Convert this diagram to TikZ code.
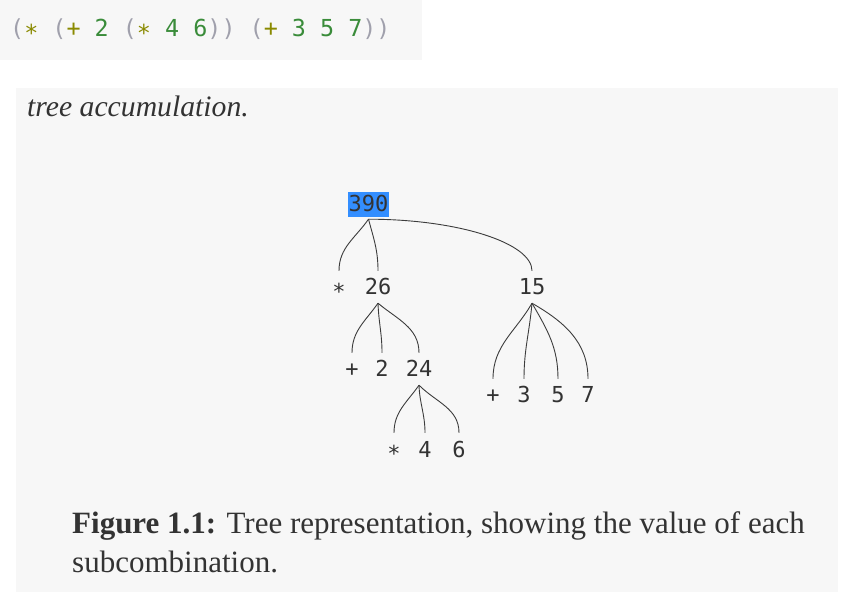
\documentclass[tikz,border=0pt]{standalone}
\usepackage{fontspec}
\setmainfont{Liberation Serif}
\newfontfamily\monofont{DejaVu Sans Mono}
\usetikzlibrary{positioning}

\definecolor{boxgray}{RGB}{247,247,247}
\definecolor{ink}{RGB}{51,51,51}
\definecolor{parengray}{RGB}{160,160,172}
\definecolor{opolive}{RGB}{138,138,0}
\definecolor{numgreen}{RGB}{58,140,58}
\definecolor{selblue}{RGB}{51,142,255}
\definecolor{linegray}{RGB}{60,60,60}

\newcommand{\codeparen}[1]{\textcolor{parengray}{#1}}
\newcommand{\codeop}[1]{\textcolor{opolive}{#1}}
\newcommand{\codenum}[1]{\textcolor{numgreen}{#1}}
\newcommand{\codestar}{\codeop{\raisebox{-4.5pt}{*}}}
\newcommand{\lowstar}{\raisebox{-5pt}{*}}

\tikzset{
    leaf/.style={font=\monofont\fontsize{22}{26}\selectfont, text=ink, text height=16pt, text depth=0pt, inner xsep=0pt, inner ysep=8pt, anchor=base},
    twig/.style={draw=linegray, line width=0.9pt},
    prose/.style={anchor=base west, inner sep=0pt, text=ink},
}

\begin{document}
\begin{tikzpicture}[x=1pt,y=1pt]
    \useasboundingbox (0,0) rectangle (841,595);
    % grey boxes
    \fill[boxgray] (0,535) rectangle (422,595);
    \fill[boxgray] (16,3) rectangle (838,507);

    \node[anchor=base west, inner sep=0pt, font=\monofont\fontsize{23.4}{28}\selectfont] (code) at (10,558)
        {\codeparen{(}\codestar{} \codeparen{(}\codeop{+} \codenum{2} \codeparen{(}\codestar{} \codenum{4} \codenum{6}\codeparen{))} \codeparen{(}\codeop{+} \codenum{3} \codenum{5} \codenum{7}\codeparen{))}};

    \node[prose, font=\itshape\fontsize{29.7}{35}\selectfont] (title) at (27,478) {tree accumulation.};

    % the tree
    \node[leaf, fill=selblue, text height=20pt, text depth=5pt, inner ysep=0pt, inner xsep=0.7pt] (v390) at (368.5,383) {390};
    \node[leaf] (op1) at (339,300) {\lowstar};
    \node[leaf] (v26) at (378,300) {26};
    \node[leaf] (v15) at (532,300) {15};
    \node[leaf] (op2) at (352,218) {+};
    \node[leaf] (v2)  at (382,218) {2};
    \node[leaf] (v24) at (419,218) {24};
    \node[leaf] (op3) at (493,192) {+};
    \node[leaf] (v3)  at (524,192) {3};
    \node[leaf] (v5)  at (558,192) {5};
    \node[leaf] (v7)  at (588,192) {7};
    \node[leaf] (op4) at (394,138) {\lowstar};
    \node[leaf] (v4)  at (425,138) {4};
    \node[leaf] (v6)  at (459,138) {6};

    \draw[twig] ([yshift=-2pt]v390.south) to[out=-125,in=90] (op1.north);
    \draw[twig] ([yshift=-2pt]v390.south) to[out=-75,in=90] (v26.north);
    \draw[twig] ([yshift=-2pt]v390.south) to[out=0,in=90,out distance=89pt,in distance=28pt] (v15.north);
    \foreach \kid/\ang in {op2/-125, v2/-88, v24/-40}
        \draw[twig] (v26.south) to[out=\ang,in=90] (\kid.north);
    \foreach \kid/\ang in {op3/-120, v3/-95, v5/-60, v7/-30}
        \draw[twig] (v15.south) to[out=\ang,in=90] (\kid.north);
    \foreach \kid/\ang in {op4/-125, v4/-88, v6/-45}
        \draw[twig] (v24.south) to[out=\ang,in=90] (\kid.north);

    % caption
    \node[prose, font=\fontsize{31}{39}\selectfont] (caption) at (72,62)
        {\textbf{Figure 1.1:} Tree representation, showing the value of each};
    \node[prose, font=\fontsize{31}{39}\selectfont] (caption2) at (72,23) {subcombination.};
\end{tikzpicture}
\end{document}
